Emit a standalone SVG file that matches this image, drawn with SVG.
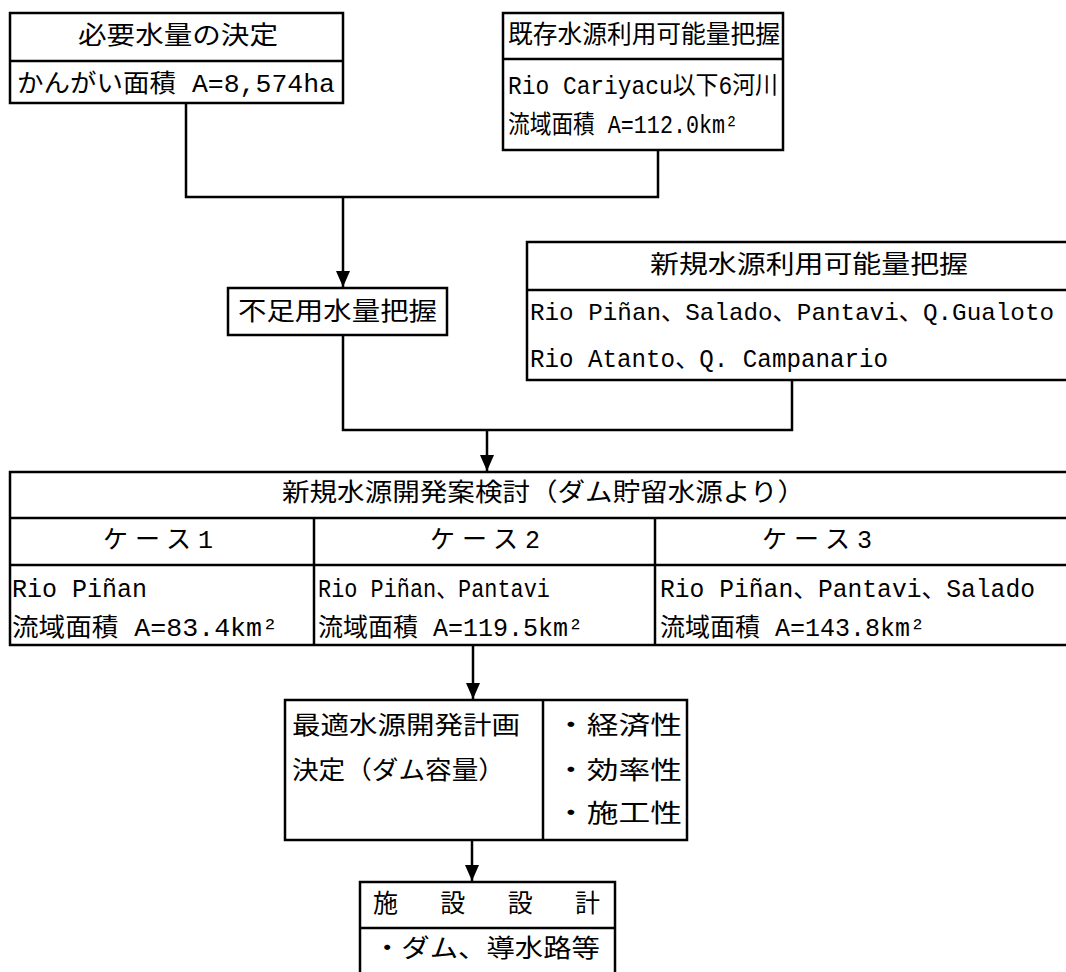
<svg xmlns="http://www.w3.org/2000/svg" width="1066" height="972" viewBox="0 0 1066 972">
<style>
.box{fill:#fff;stroke:#000;stroke-width:2.5}
.ln{stroke:#000;stroke-width:2.5;fill:none}
.t{font-family:"Liberation Mono","Noto Sans CJK JP",monospace;font-size:25px;fill:#000;dominant-baseline:central}
</style>
<defs>
<marker id="arr" markerUnits="userSpaceOnUse" markerWidth="18" markerHeight="16" refX="16" refY="8" orient="auto" viewBox="0 0 18 16">
<path d="M0,1 L16,8 L0,15 Z" fill="#000"/>
</marker>
</defs>
<rect width="1066" height="972" fill="#fff"/>

<g id="connectors">
<path class="ln" d="M186,103 V197 H658 V150"/>
<path class="ln" d="M343,197 V287" marker-end="url(#arr)"/>
<path class="ln" d="M343,335 V430 H792 V380"/>
<path class="ln" d="M487,430 V471" marker-end="url(#arr)"/>
<path class="ln" d="M473,645 V699" marker-end="url(#arr)"/>
<path class="ln" d="M472,840 V881" marker-end="url(#arr)"/>
</g>

<g id="n-required">
<rect class="box" x="10" y="13" width="333" height="90"/>
<line class="ln" x1="10" y1="61" x2="343" y2="61"/>
<text class="t" x="78" y="37" textLength="200" lengthAdjust="spacingAndGlyphs">必要水量の決定</text>
<text class="t" x="17" y="85" textLength="318" lengthAdjust="spacingAndGlyphs">かんがい面積 A=8,574ha</text>
</g>

<g id="n-existing">
<rect class="box" x="503" y="13" width="280" height="137"/>
<line class="ln" x1="503" y1="59" x2="783" y2="59"/>
<text class="t" x="508" y="36" textLength="272" lengthAdjust="spacingAndGlyphs">既存水源利用可能量把握</text>
<text class="t" x="508" y="87" textLength="270" lengthAdjust="spacingAndGlyphs">Rio Cariyacu以下6河川</text>
<text class="t" x="508" y="126" textLength="230" lengthAdjust="spacingAndGlyphs">流域面積 A=112.0km²</text>
</g>

<g id="n-shortage">
<rect class="box" x="228" y="288" width="219" height="47"/>
<text class="t" x="238" y="313" textLength="199" lengthAdjust="spacingAndGlyphs">不足用水量把握</text>
</g>

<g id="n-new">
<rect class="box" x="527" y="242" width="550" height="138"/>
<line class="ln" x1="527" y1="290" x2="1077" y2="290"/>
<text class="t" x="650" y="266" textLength="318" lengthAdjust="spacingAndGlyphs">新規水源利用可能量把握</text>
<text class="t" x="530" y="313" style="font-size:24px" textLength="524" lengthAdjust="spacingAndGlyphs">Rio Piñan、Salado、Pantavi、Q.Gualoto</text>
<text class="t" x="530" y="360" textLength="358" lengthAdjust="spacingAndGlyphs">Rio Atanto、Q. Campanario</text>
</g>

<g id="n-cases">
<rect class="box" x="10" y="472" width="1070" height="173"/>
<line class="ln" x1="10" y1="518" x2="1080" y2="518"/>
<line class="ln" x1="10" y1="565" x2="1080" y2="565"/>
<line class="ln" x1="314" y1="518" x2="314" y2="645"/>
<line class="ln" x1="655" y1="518" x2="655" y2="645"/>
<text class="t" x="282" y="494" textLength="523" lengthAdjust="spacingAndGlyphs">新規水源開発案検討（ダム貯留水源より）</text>
<text class="t" x="103" y="541" textLength="110" lengthAdjust="spacing">ケース1</text>
<text class="t" x="430" y="541" textLength="110" lengthAdjust="spacing">ケース2</text>
<text class="t" x="762" y="541" textLength="110" lengthAdjust="spacing">ケース3</text>
<text class="t" x="12" y="590" textLength="135" lengthAdjust="spacingAndGlyphs">Rio Piñan</text>
<text class="t" x="12" y="629" textLength="266" lengthAdjust="spacingAndGlyphs">流域面積 A=83.4km²</text>
<text class="t" x="318" y="590" textLength="232" lengthAdjust="spacingAndGlyphs">Rio Piñan、Pantavi</text>
<text class="t" x="318" y="629" textLength="265" lengthAdjust="spacingAndGlyphs">流域面積 A=119.5km²</text>
<text class="t" x="660" y="590" textLength="375" lengthAdjust="spacingAndGlyphs">Rio Piñan、Pantavi、Salado</text>
<text class="t" x="660" y="629" textLength="265" lengthAdjust="spacingAndGlyphs">流域面積 A=143.8km²</text>
</g>

<g id="n-optimal">
<rect class="box" x="285" y="700" width="402" height="140"/>
<line class="ln" x1="543" y1="700" x2="543" y2="840"/>
<text class="t" x="292" y="727" textLength="228" lengthAdjust="spacingAndGlyphs">最適水源開発計画</text>
<text class="t" x="292" y="772" textLength="213" lengthAdjust="spacingAndGlyphs">決定（ダム容量）</text>
<text class="t" x="555" y="727" textLength="127" lengthAdjust="spacingAndGlyphs">・経済性</text>
<text class="t" x="555" y="772" textLength="127" lengthAdjust="spacingAndGlyphs">・効率性</text>
<text class="t" x="555" y="815" textLength="127" lengthAdjust="spacingAndGlyphs">・施工性</text>
</g>

<g id="n-design">
<rect class="box" x="360" y="882" width="255" height="100"/>
<line class="ln" x1="360" y1="928" x2="615" y2="928"/>
<text class="t" x="373" y="905" textLength="227" lengthAdjust="spacing">施　設　設　計</text>
<text class="t" x="373" y="950" textLength="227" lengthAdjust="spacingAndGlyphs">・ダム、導水路等</text>
</g>
</svg>
